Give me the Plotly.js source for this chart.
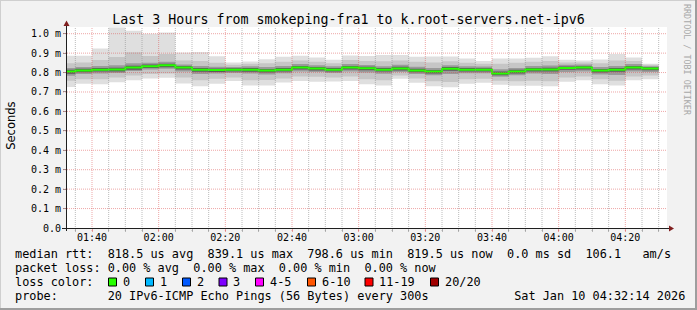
<!DOCTYPE html>
<html><head><meta charset="utf-8">
<script src="https://cdn.plot.ly/plotly-3.0.1.min.js"></script>
<style>html,body{margin:0;padding:0;background:#f2f2f2;}#chart{width:697px;height:310px;}</style>
</head><body><div id="chart"></div>
<script>
// ---------------- data ----------------
const day = '2026-01-10 ';
const xRange = ['01:32:30', '04:32:30'];
const bucketStart = ['01:30','01:35','01:40','01:45','01:50','01:55',
  '02:00','02:05','02:10','02:15','02:20','02:25','02:30','02:35','02:40','02:45','02:50','02:55',
  '03:00','03:05','03:10','03:15','03:20','03:25','03:30','03:35','03:40','03:45','03:50','03:55',
  '04:00','04:05','04:10','04:15','04:20','04:25'];
const lastBucketEnd = '04:30';
// RTT in milliseconds (axis labels "m" = milliseconds of seconds)
const rttMin = [.726,.743,.740,.750,.760,.769,.773,.744,.730,.743,.756,.734,.734,.749,.756,.753,.754,.756,
  .740,.734,.768,.747,.730,.725,.742,.747,.737,.732,.732,.729,.753,.760,.740,.734,.761,.766];
const rttP10 = [.758,.765,.765,.775,.785,.792,.795,.775,.760,.768,.775,.760,.762,.770,.780,.778,.775,.780,
  .765,.760,.785,.770,.755,.752,.765,.768,.758,.755,.758,.755,.775,.780,.765,.758,.780,.785];
const rttP30 = [.784,.793,.795,.798,.808,.816,.820,.805,.792,.795,.798,.795,.790,.796,.806,.803,.798,.806,
  .800,.794,.803,.793,.786,.793,.796,.796,.778,.786,.795,.793,.803,.806,.790,.788,.806,.803];
const rttP40 = [.794,.801,.805,.806,.815,.823,.827,.816,.804,.803,.805,.804,.800,.805,.816,.811,.805,.816,
  .812,.805,.811,.801,.795,.809,.805,.805,.786,.795,.806,.805,.814,.816,.800,.804,.816,.812];
const rttMedian = [.806,.811,.815,.816,.826,.833,.837,.826,.815,.813,.815,.815,.810,.815,.826,.821,.815,.826,
  .822,.815,.821,.811,.805,.820,.815,.815,.795,.805,.816,.816,.824,.826,.810,.815,.826,.821];
const rttP60 = [.814,.819,.823,.825,.835,.841,.845,.834,.823,.821,.822,.823,.818,.823,.834,.829,.823,.834,
  .830,.823,.830,.819,.813,.828,.823,.822,.805,.814,.824,.825,.831,.833,.818,.823,.834,.827];
const rttP70 = [.824,.828,.834,.838,.848,.850,.855,.842,.834,.830,.829,.832,.828,.834,.844,.838,.832,.844,
  .839,.832,.840,.830,.824,.837,.832,.831,.817,.824,.834,.836,.840,.842,.828,.834,.844,.833];
const rttP90 = [.848,.852,.865,.880,.905,.885,.895,.862,.860,.850,.840,.845,.848,.855,.862,.855,.848,.865,
  .860,.858,.862,.855,.852,.858,.850,.845,.845,.850,.855,.860,.852,.852,.848,.862,.860,.840];
const rttMax = [.887,.887,.924,1.032,1.015,1.000,1.006,.903,.906,.884,.852,.857,.868,.882,.887,.877,.866,.888,
  .885,.890,.890,.882,.883,.883,.872,.859,.873,.873,.876,.884,.866,.862,.867,.895,.878,.845];
const yTickValues = [0, .1, .2, .3, .4, .5, .6, .7, .8, .9, 1.0];
const yTickLabels = ['0.0','0.1 m','0.2 m','0.3 m','0.4 m','0.5 m','0.6 m','0.7 m','0.8 m','0.9 m','1.0 m'];
const titleText = 'Last 3 Hours from smokeping-fra1 to k.root-servers.net-ipv6';
const legendLines = [
  'median rtt:  818.5 us avg  839.1 us max  798.6 us min  819.5 us now  0.0 ms sd  106.1   am/s',
  'packet loss: 0.00 % avg  0.00 % max  0.00 % min  0.00 % now',
  'loss color:',
  'probe:       20 IPv6-ICMP Echo Pings (56 Bytes) every 300s            Sat Jan 10 04:32:14 2026'
];
const lossLabels = ['0','1','2','3','4-5','6-10','11-19','20/20'];
const lossColors = ['#26ff00','#00b8ff','#0059ff','#7e00ff','#ff00ff','#ff5500','#ff0000','#a10000'];

// ---------------- layout helpers ----------------
const L = 67, T = 27, W = 600, H = 201, FULLW = 697, FULLH = 310;
const px = p => (p - L) / W;
const py = p => (T + H - p) / H;
const MONO = '"DejaVu Sans Mono", monospace';
const nb = s => s.replace(/ /g, '\u00a0');

const xs = bucketStart.map(t => day + t).concat([day + lastBucketEnd]);
const ext = a => a.concat([a[a.length - 1]]);

const traces = [];
function band(lo, hi, color) {
  traces.push({x: xs, y: ext(lo), type: 'scatter', mode: 'lines', line: {width: 0, shape: 'hv'},
    hoverinfo: 'skip', showlegend: false});
  traces.push({x: xs, y: ext(hi), type: 'scatter', mode: 'lines', line: {width: 0, shape: 'hv'},
    fill: 'tonexty', fillcolor: color, hoverinfo: 'skip', showlegend: false});
}
band(rttMin, rttMax, '#dfdfdf');
band(rttP10, rttP90, '#c6c6c6');
band(rttP30, rttP70, '#9a9a9a');
band(rttP40, rttP60, '#5a5a5a');
traces.push({x: xs, y: ext(rttMedian), type: 'scatter', mode: 'lines',
  line: {width: 2, shape: 'hv', color: lossColors[0]}, hoverinfo: 'skip', showlegend: false});

// grid shapes (drawn above the smoke, like rrdtool)
const shapes = [];
const majorGrid = 'rgba(222,79,79,0.5)', minorGrid = 'rgba(143,143,143,0.6)';
for (let m = 95; m <= 270; m += 5) {
  const hh = String(Math.floor(m / 60)).padStart(2, '0'), mm = String(m % 60).padStart(2, '0');
  const major = (m % 20 === 0);
  shapes.push({type: 'line', layer: 'above', xref: 'x', yref: 'paper', x0: day + hh + ':' + mm, x1: day + hh + ':' + mm,
    y0: py(231), y1: 1, line: {color: major ? majorGrid : minorGrid, width: 1, dash: '1px,1px'}});
}
yTickValues.slice(1).forEach(v => shapes.push({type: 'line', layer: 'above', xref: 'paper', yref: 'y',
  x0: px(63), x1: 1, y0: v, y1: v, line: {color: majorGrid, width: 1, dash: '1px,1px'}}));
// axis lines and arrows
shapes.push({type: 'line', layer: 'above', xref: 'paper', yref: 'paper', x0: px(62), x1: px(670), y0: py(228.5), y1: py(228.5),
  line: {color: '#1f1f1f', width: 1}});
shapes.push({type: 'line', layer: 'above', xref: 'paper', yref: 'paper', x0: px(66.5), x1: px(66.5), y0: py(231), y1: py(24),
  line: {color: '#1f1f1f', width: 1}});
shapes.push({type: 'path', layer: 'above', xref: 'paper', yref: 'paper',
  path: `M ${px(66.5)},${py(20.5)} L ${px(63.5)},${py(26)} L ${px(69.5)},${py(26)} Z`, fillcolor: '#801f1f', line: {width: 0}});
shapes.push({type: 'path', layer: 'above', xref: 'paper', yref: 'paper',
  path: `M ${px(674)},${py(228.5)} L ${px(669)},${py(225.5)} L ${px(669)},${py(231.5)} Z`, fillcolor: '#801f1f', line: {width: 0}});
// frame shading
shapes.push({type: 'line', xref: 'paper', yref: 'paper', x0: px(0), x1: px(FULLW), y0: py(0.5), y1: py(0.5), line: {color: '#cfcfcf', width: 1}});
shapes.push({type: 'line', xref: 'paper', yref: 'paper', x0: px(0.5), x1: px(0.5), y0: py(0), y1: py(FULLH), line: {color: '#cfcfcf', width: 1}});
shapes.push({type: 'line', xref: 'paper', yref: 'paper', x0: px(0), x1: px(FULLW), y0: py(FULLH - 1), y1: py(FULLH - 1), line: {color: '#9e9e9e', width: 2}});
shapes.push({type: 'line', xref: 'paper', yref: 'paper', x0: px(FULLW - 1), x1: px(FULLW - 1), y0: py(0), y1: py(FULLH), line: {color: '#9e9e9e', width: 2}});

// legend boxes
const boxLeft = [108.5, 145.5, 182.5, 219, 255.5, 307.5, 365, 430.5];
const annotations = [];
boxLeft.forEach((b, i) => {
  shapes.push({type: 'rect', xref: 'paper', yref: 'paper', x0: px(b), x1: px(b + 8), y0: py(286), y1: py(278),
    fillcolor: lossColors[i], line: {color: '#000', width: 1}});
  annotations.push({xref: 'paper', yref: 'paper', x: px(b + 14.3), y: py(282), xanchor: 'left', yanchor: 'middle',
    text: nb(lossLabels[i]), showarrow: false, borderpad: 0, borderwidth: 0, font: {family: MONO, size: 11.85, color: '#000'}});
});
const lineY = [254, 268, 282, 296];
legendLines.forEach((t, i) => annotations.push({xref: 'paper', yref: 'paper', x: px(14.6), y: py(lineY[i]),
  xanchor: 'left', yanchor: 'middle', text: nb(t), showarrow: false, borderpad: 0, borderwidth: 0,
  font: {family: MONO, size: 11.85, color: '#000'}}));
annotations.push({xref: 'paper', yref: 'paper', x: px(10.8), y: py(126), xanchor: 'center', yanchor: 'middle',
  textangle: -90, text: 'Seconds', showarrow: false, borderpad: 0, borderwidth: 0,
  font: {family: '"DejaVu Sans", sans-serif', size: 11.5, color: '#000'}});
annotations.push({xref: 'paper', yref: 'paper', x: px(687), y: py(60), xanchor: 'center', yanchor: 'middle',
  textangle: 90, text: nb('RRDTOOL / TOBI OETIKER'), showarrow: false, borderpad: 0, borderwidth: 0,
  font: {family: MONO, size: 8.4, color: '#a8a8a8'}});

const layout = {
  width: FULLW, height: FULLH,
  margin: {l: L, r: FULLW - L - W, t: T, b: FULLH - T - H, pad: 0},
  paper_bgcolor: '#f2f2f2', plot_bgcolor: '#ffffff',
  title: {text: titleText, xref: 'container', yref: 'container', x: 0.5, y: 1 - 19 / FULLH, xanchor: 'center', yanchor: 'middle',
    font: {family: MONO, size: 13.3, color: '#000'}},
  xaxis: {type: 'date', range: [day + xRange[0], day + xRange[1]], tickformat: '%H:%M', dtick: 1200000,
    tick0: day + '00:00', showgrid: false, zeroline: false, showline: false, ticklabelstandoff: -3,
    ticks: 'outside', ticklen: 3, tickcolor: majorGrid, tickfont: {family: MONO, size: 10, color: '#000'},
    minor: {dtick: 300000, tick0: day + '00:00', ticks: 'outside', ticklen: 3, tickcolor: minorGrid, showgrid: false}},
  yaxis: {range: [0, H / 194.3], tickvals: yTickValues, ticktext: yTickLabels, showgrid: false, zeroline: false,
    showline: false, ticks: 'outside', ticklen: 3, tickcolor: '#999', tickfont: {family: MONO, size: 10, color: '#000'}},
  shapes: shapes, annotations: annotations, showlegend: false, hovermode: false
};
Plotly.newPlot('chart', traces, layout, {staticPlot: true, displayModeBar: false});
</script></body></html>
